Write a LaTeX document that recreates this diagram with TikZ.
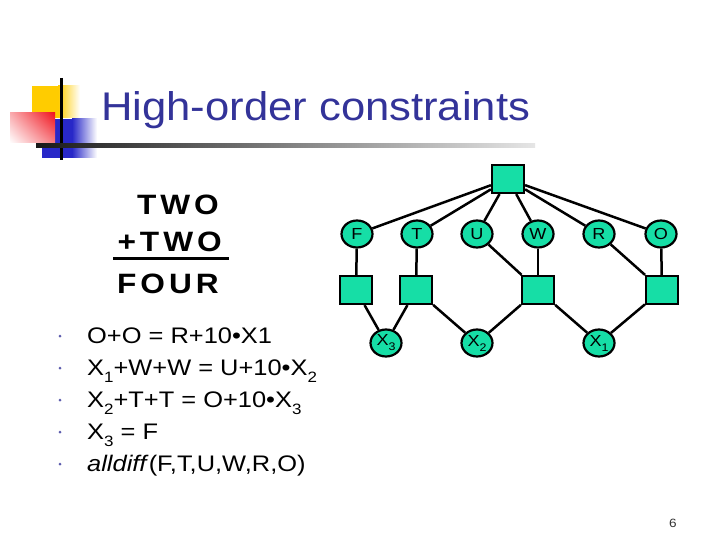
\documentclass[tikz,border=0pt]{standalone}
\usepackage{fontspec}
\setmainfont{Liberation Sans}[FakeStretch=1.13]
\newfontfamily\titlefont{Liberation Sans}[FakeStretch=1.09]
\usetikzlibrary{shapes.geometric,shadings}
\definecolor{nodefill}{RGB}{22,222,166}
\definecolor{titleblue}{RGB}{51,51,153}
\definecolor{logoblue}{RGB}{40,40,200}
\definecolor{logoyellow}{RGB}{255,204,0}
\definecolor{logored}{RGB}{240,20,30}
\newcommand\lowsub[1]{\raisebox{-7bp}{\fontsize{15bp}{15bp}\selectfont #1}}
\newcommand\nodesub[1]{\raisebox{-5bp}{\fontsize{11bp}{11bp}\selectfont #1}}
\begin{document}
\begin{tikzpicture}[x=1bp,y=-1bp,
  sq/.style={draw=black,line width=2.2bp,fill=nodefill,minimum width=32bp,minimum height=28bp,inner sep=0pt},
  var/.style={ellipse,draw=black,line width=2.2bp,fill=nodefill,minimum width=31bp,minimum height=27bp,inner sep=0pt,font=\fontsize{16bp}{16bp}\selectfont},
  edge/.style={line width=2.5bp,draw=black},
  txt/.style={inner sep=0pt,anchor=base west,font=\fontsize{22.5bp}{26bp}\selectfont},
  puzzle/.style={inner sep=0pt,anchor=base east,font=\bfseries\fontsize{28bp}{30bp}\selectfont},
  bul/.style={circle,fill=titleblue!80,inner sep=0pt,minimum size=3bp}]
\useasboundingbox (0,0) rectangle (720,540);
\fill[white] (0,0) rectangle (720,540);
% logo
\fill[logoblue] (42,119) rectangle (72,158);
\shade[left color=logoblue,right color=white] (72,119) rectangle (97,158);
\fill[logoyellow] (32,86) rectangle (58,118);
\shade[left color=logoyellow,right color=white] (58,86) rectangle (80,118);
\shade[upper right=logored,upper left=logored!35,lower right=logored!55,lower left=white] (10,113) rectangle (55,143);
\draw[line width=3bp] (61,78) -- (61,160);
\shade[left color=black!90,right color=black!10] (36,144) rectangle (535,148);
% title
\node[anchor=base west,inner sep=0pt,text=titleblue,font=\titlefont\fontsize{40bp}{42bp}\selectfont] (title) at (101,121) {High-order constraints};
% puzzle
\node[puzzle] (two1) at (219,215) {T\kern4bp W\kern4bp O};
\node[puzzle] (two2) at (222,252) {+\kern4bp T\kern4bp W\kern4bp O};
\node[puzzle] (four) at (219,293) {F\kern4bp O\kern4bp U\kern4bp R};
\coordinate (ulA) at (113,259);
\coordinate (ulB) at (229,259);
\draw[line width=3bp] (ulA) -- (ulB);
% bullets
\node[bul] (b1) at (60,336) {};
\node[bul] (b2) at (60,368) {};
\node[bul] (b3) at (60,400) {};
\node[bul] (b4) at (60,432) {};
\node[bul] (b5) at (60,464) {};
\node[txt] (l1) at (87,343) {O+O = R+10•X1};
\node[txt] (l2) at (87,375) {X\lowsub{1}+W+W = U+10•X\lowsub{2}};
\node[txt] (l3) at (87,407) {X\lowsub{2}+T+T = O+10•X\lowsub{3}};
\node[txt] (l4) at (87,439) {X\lowsub{3} = F};
\node[txt] (l5) at (87,471) {\textit{alldiff}(F,T,U,W,R,O)};
% graph
\node[sq] (top) at (508,179) {};
\node[var] (F) at (357,234) {F};
\node[var] (T) at (417,234) {T};
\node[var] (U) at (477,234) {U};
\node[var] (W) at (538,234) {W};
\node[var] (R) at (599,234) {R};
\node[var] (O) at (661,234) {O};
\node[sq] (sF) at (356,290) {};
\node[sq] (sT) at (416,290) {};
\node[sq] (sW) at (538,290) {};
\node[sq] (sO) at (662,290) {};
\node[var] (X3) at (386,343) {X\nodesub{3}};
\node[var] (X2) at (477,343) {X\nodesub{2}};
\node[var] (X1) at (599,343) {X\nodesub{1}};
\foreach \v in {F,T,U,W,R,O} \draw[edge] (top) -- (\v);
\draw[edge] (F) -- (sF);
\draw[edge] (T) -- (sT);
\draw[edge] (U) -- (sW);
\draw[edge] (W) -- (sW);
\draw[edge] (R) -- (sO);
\draw[edge] (O) -- (sO);
\draw[edge] (sF) -- (X3);
\draw[edge] (sT) -- (X3);
\draw[edge] (sT) -- (X2);
\draw[edge] (sW) -- (X2);
\draw[edge] (sW) -- (X1);
\draw[edge] (sO) -- (X1);
% page number
\node[inner sep=0pt,anchor=base,font=\fontsize{12bp}{12bp}\selectfont,text=black!80] (pg) at (673,527) {6};
\end{tikzpicture}
\end{document}
